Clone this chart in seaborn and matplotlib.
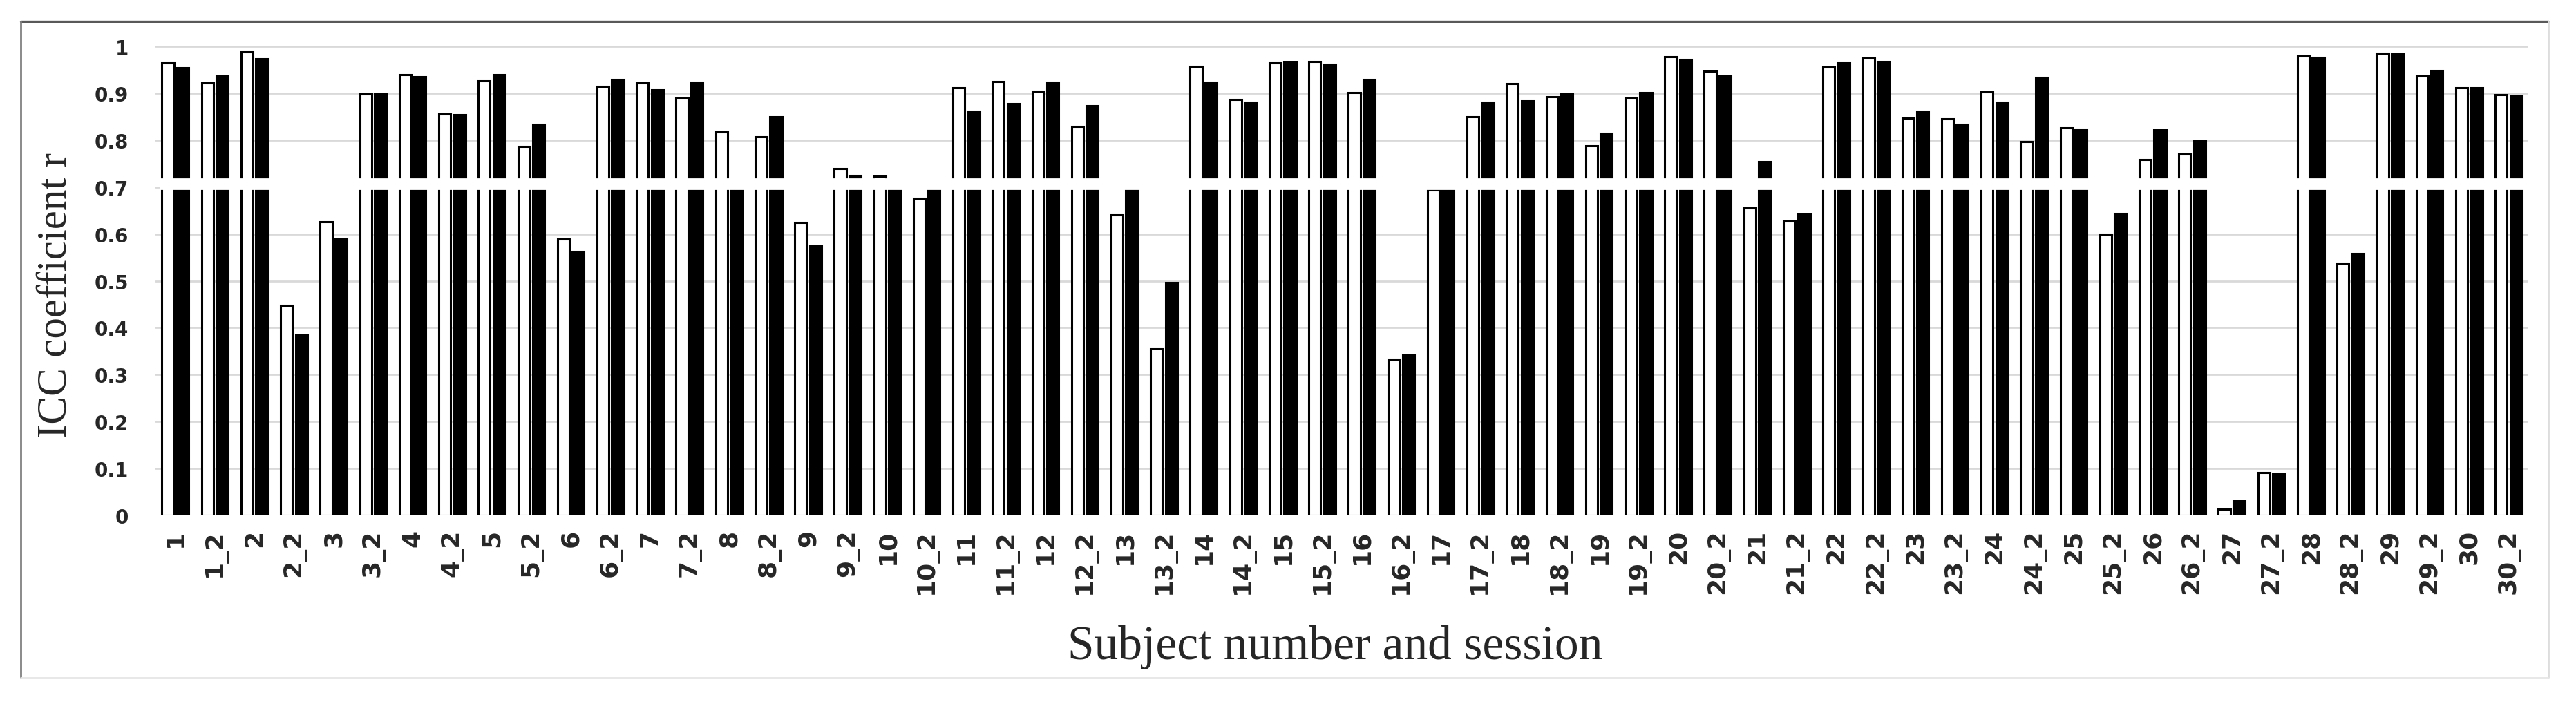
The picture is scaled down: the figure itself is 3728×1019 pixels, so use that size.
import pandas as pd
import matplotlib.pyplot as plt
import seaborn as sns
from matplotlib.lines import Line2D

# subject / session labels
labels = ["1", "1_2", "2", "2_2", "3", "3_2", "4", "4_2", "5", "5_2",
          "6", "6_2", "7", "7_2", "8", "8_2", "9", "9_2", "10", "10_2",
          "11", "11_2", "12", "12_2", "13", "13_2", "14", "14_2", "15", "15_2",
          "16", "16_2", "17", "17_2", "18", "18_2", "19", "19_2", "20", "20_2",
          "21", "21_2", "22", "22_2", "23", "23_2", "24", "24_2", "25", "25_2",
          "26", "26_2", "27", "27_2", "28", "28_2", "29", "29_2", "30", "30_2"]

# ICC r, white bars
icc_white = [0.964, 0.922, 0.989, 0.448, 0.626, 0.898, 0.940, 0.856, 0.926, 0.786,
             0.589, 0.914, 0.922, 0.890, 0.817, 0.807, 0.625, 0.739, 0.723, 0.676,
             0.911, 0.925, 0.904, 0.829, 0.640, 0.356, 0.957, 0.887, 0.964, 0.967,
             0.902, 0.333, 0.694, 0.850, 0.920, 0.893, 0.788, 0.890, 0.978, 0.947,
             0.656, 0.628, 0.956, 0.975, 0.847, 0.845, 0.903, 0.797, 0.826, 0.600,
             0.759, 0.771, 0.014, 0.091, 0.980, 0.538, 0.986, 0.936, 0.911, 0.897]

# ICC r, black bars
icc_black = [0.954, 0.936, 0.974, 0.385, 0.589, 0.899, 0.935, 0.854, 0.939, 0.834,
             0.562, 0.929, 0.908, 0.923, 0.700, 0.850, 0.574, 0.725, 0.700, 0.700,
             0.861, 0.878, 0.923, 0.874, 0.700, 0.497, 0.923, 0.881, 0.966, 0.962,
             0.930, 0.342, 0.700, 0.881, 0.883, 0.899, 0.814, 0.901, 0.972, 0.937,
             0.754, 0.642, 0.964, 0.968, 0.862, 0.834, 0.881, 0.934, 0.824, 0.644,
             0.822, 0.798, 0.031, 0.088, 0.976, 0.558, 0.984, 0.948, 0.912, 0.894]

yticks = [0, 0.1, 0.2, 0.3, 0.4, 0.5, 0.6, 0.7, 0.8, 0.9, 1]
ytick_labels = ["0", "0.1", "0.2", "0.3", "0.4", "0.5", "0.6", "0.7", "0.8", "0.9", "1"]

df = pd.DataFrame({
    "label": labels + labels,
    "series": ["white"] * len(labels) + ["black"] * len(labels),
    "icc": icc_white + icc_black,
})

sns.set_theme(style="white")
plt.rcParams["font.family"] = ["DejaVu Sans"]

fig, ax = plt.subplots(figsize=(18.64, 5.10), dpi=200)
fig.subplots_adjust(left=0.0604, right=0.9815, top=0.9333, bottom=0.2676)

sns.barplot(data=df, x="label", y="icc", hue="series",
            palette={"white": "white", "black": "black"},
            edgecolor="black", linewidth=1.1, width=0.75, gap=0.2,
            errorbar=None, legend=False, ax=ax)

ax.set_xlim(-0.5, len(labels) - 0.5)
ax.set_ylim(0, 1)
ax.set_yticks(yticks)
ax.set_yticklabels(ytick_labels, fontweight="bold", fontsize=10)
ax.tick_params(axis="y", length=0, pad=14)
ax.tick_params(axis="x", length=0, pad=7)
plt.setp(ax.get_xticklabels(), rotation=90, fontweight="bold", fontsize=13)

ax.set_axisbelow(True)
ax.yaxis.grid(True, color="#d9d9d9", linewidth=1.0)
sns.despine(ax=ax, left=True, bottom=True)

# axis break
ax.axhspan(0.697, 0.718, xmin=0.002, xmax=1, color="white", zorder=5)

ax.set_ylabel("ICC coefficient r", family="Liberation Serif", fontsize=22)
ax.yaxis.set_label_coords(-0.034, 0.47)
ax.set_xlabel("Subject number and session", family="Liberation Serif", fontsize=25)
ax.xaxis.set_label_coords(0.497, -0.233)

# frame around the figure
fig.add_artist(Line2D([0.008, 0.9893], [0.9686, 0.9686], color="#595959", linewidth=1.2))
fig.add_artist(Line2D([0.008, 0.008], [0.0373, 0.9686], color="#808080", linewidth=1.0))
fig.add_artist(Line2D([0.9893, 0.9893], [0.0373, 0.9686], color="#dddddd", linewidth=1.0))
fig.add_artist(Line2D([0.008, 0.9893], [0.0373, 0.0373], color="#e6e6e6", linewidth=1.0))

fig.savefig("out.png", dpi=200, facecolor="white")
plt.close(fig)
